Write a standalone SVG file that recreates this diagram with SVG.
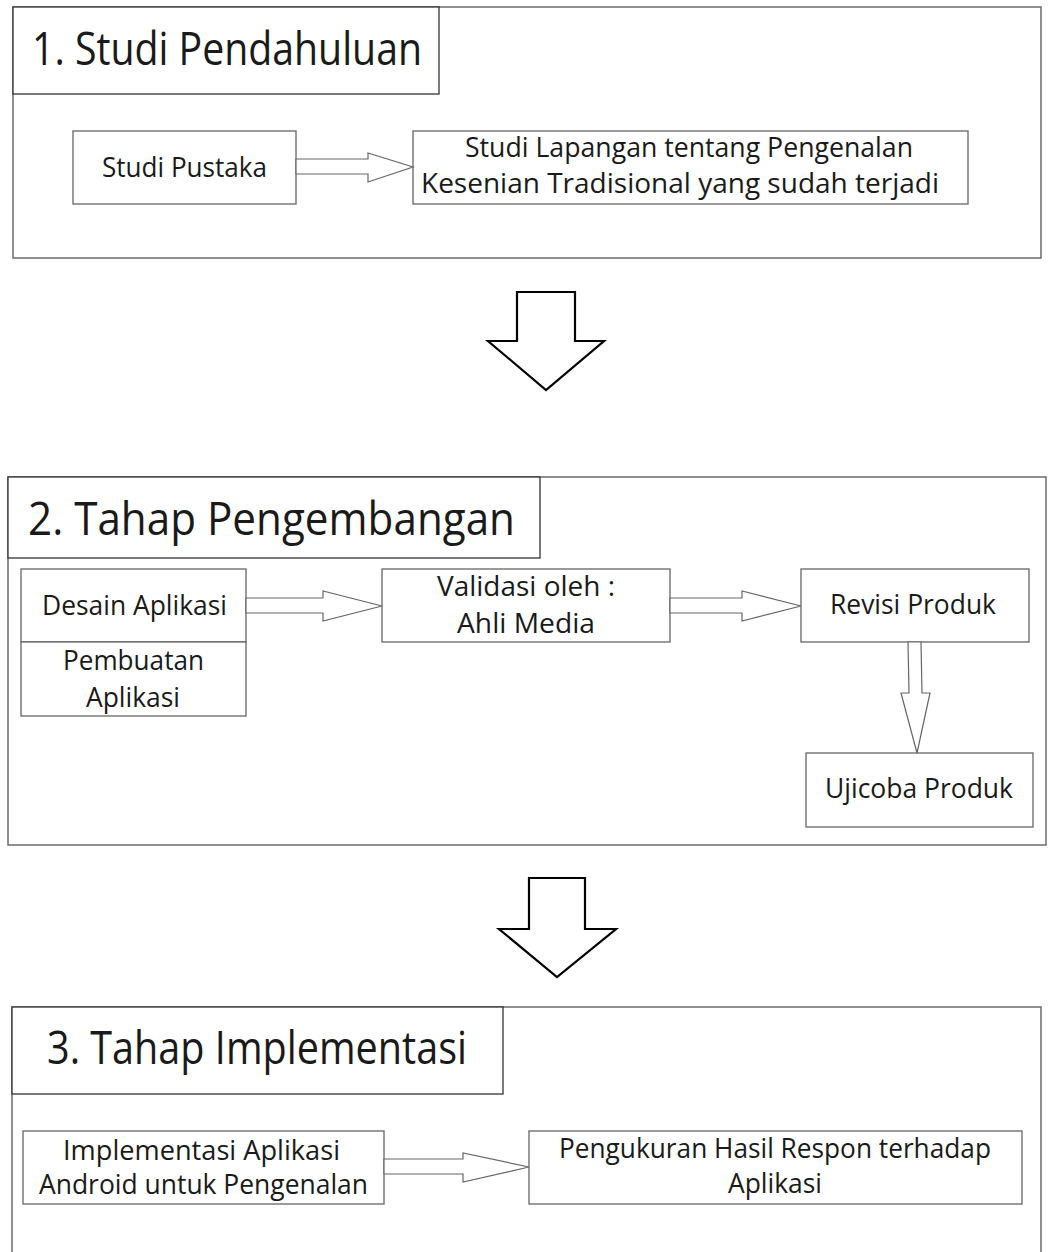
<svg xmlns="http://www.w3.org/2000/svg" width="1051" height="1252" viewBox="0 0 1051 1252">
<defs>
<style>
.outer{fill:#fff;stroke:#6b6b6b;stroke-width:1.5}
.title{fill:#fff;stroke:#333;stroke-width:1.3}
.box{fill:#fff;stroke:#666;stroke-width:1.3}
.conn{fill:#fff;stroke:#666;stroke-width:1.2;stroke-linejoin:miter}
.big{fill:#fff;stroke:#000;stroke-width:2.2;stroke-linejoin:miter}
text{font-family:"Open Sans","Noto Sans","Liberation Sans",sans-serif;fill:#1a1a1a}
.t1{font-size:45px}
.t2{font-size:27px}
</style>
</defs>
<rect width="1051" height="1252" fill="#fff"/>

<g id="stage1">
<rect class="outer" x="13" y="7" width="1028" height="251"/>
<g id="stage1-title">
<rect class="title" x="13" y="7" width="426" height="87"/>
<text class="t1" x="32" y="65" textLength="390" lengthAdjust="spacingAndGlyphs">1. Studi Pendahuluan</text>
</g>
</g>
<g id="stage2">
<rect class="outer" x="8" y="477" width="1038" height="368"/>
<g id="stage2-title">
<rect class="title" x="8" y="477" width="532" height="81"/>
<text class="t1" x="28" y="535" textLength="487" lengthAdjust="spacingAndGlyphs">2. Tahap Pengembangan</text>
</g>
</g>
<g id="stage3">
<rect class="outer" x="12" y="1007" width="1029" height="260"/>
<g id="stage3-title">
<rect class="title" x="12" y="1007" width="491" height="87"/>
<text class="t1" x="47" y="1064" textLength="420" lengthAdjust="spacingAndGlyphs">3. Tahap Implementasi</text>
</g>
</g>

<g id="studi-pustaka">
<rect class="box" x="73" y="131" width="223" height="73"/>
<text class="t2" x="102" y="177" textLength="165" lengthAdjust="spacingAndGlyphs">Studi Pustaka</text>
</g>
<g id="studi-lapangan">
<rect class="box" x="413" y="131" width="555" height="73"/>
<text class="t2" x="465" y="157" textLength="448" lengthAdjust="spacingAndGlyphs">Studi Lapangan tentang Pengenalan</text>
<text class="t2" x="421" y="193" textLength="518" lengthAdjust="spacingAndGlyphs">Kesenian Tradisional yang sudah terjadi</text>
</g>

<g id="desain-aplikasi">
<rect class="box" x="21" y="569" width="225" height="73"/>
<text class="t2" x="42" y="615" textLength="185" lengthAdjust="spacingAndGlyphs">Desain Aplikasi</text>
</g>
<g id="pembuatan-aplikasi">
<rect class="box" x="21" y="642" width="225" height="74"/>
<text class="t2" x="63" y="670" textLength="141" lengthAdjust="spacingAndGlyphs">Pembuatan</text>
<text class="t2" x="86" y="707" textLength="94" lengthAdjust="spacingAndGlyphs">Aplikasi</text>
</g>
<g id="validasi">
<rect class="box" x="382" y="569" width="288" height="73"/>
<text class="t2" x="437" y="596" textLength="178" lengthAdjust="spacingAndGlyphs">Validasi oleh :</text>
<text class="t2" x="457" y="633" textLength="138" lengthAdjust="spacingAndGlyphs">Ahli Media</text>
</g>
<g id="revisi-produk">
<rect class="box" x="801" y="569" width="228" height="73"/>
<text class="t2" x="830" y="614" textLength="166" lengthAdjust="spacingAndGlyphs">Revisi Produk</text>
</g>
<g id="ujicoba-produk">
<rect class="box" x="806" y="753" width="227" height="74"/>
<text class="t2" x="825" y="798" textLength="188" lengthAdjust="spacingAndGlyphs">Ujicoba Produk</text>
</g>

<g id="implementasi">
<rect class="box" x="23" y="1131" width="361" height="73"/>
<text class="t2" x="63" y="1160" textLength="277" lengthAdjust="spacingAndGlyphs">Implementasi Aplikasi</text>
<text class="t2" x="39" y="1194" textLength="329" lengthAdjust="spacingAndGlyphs">Android untuk Pengenalan</text>
</g>
<g id="pengukuran">
<rect class="box" x="529" y="1131" width="493" height="73"/>
<text class="t2" x="559" y="1158" textLength="432" lengthAdjust="spacingAndGlyphs">Pengukuran Hasil Respon terhadap</text>
<text class="t2" x="728" y="1193" textLength="94" lengthAdjust="spacingAndGlyphs">Aplikasi</text>
</g>

<g id="connectors">
<polygon class="conn" points="296,159 368,159 368,153 413,167 368,182 368,174 296,174"/>
<polygon class="conn" points="246,598 323,598 323,591 382,606 323,621 323,613 246,613"/>
<polygon class="conn" points="670,598 742,598 742,591 801,606 742,621 742,613 670,613"/>
<polygon class="conn" points="908,642 921,642 922,693 930,693 917,753 901,693 909,693"/>
<polygon class="conn" points="384,1159 463,1159 463,1153 529,1167 463,1182 463,1174 384,1174"/>
<polygon class="big" points="517,292 575,292 575,341 604,341 546,390 488,341 517,341"/>
<polygon class="big" points="529,878 585,878 585,929 616,929 557,977 499,929 529,929"/>
</g>
</svg>
